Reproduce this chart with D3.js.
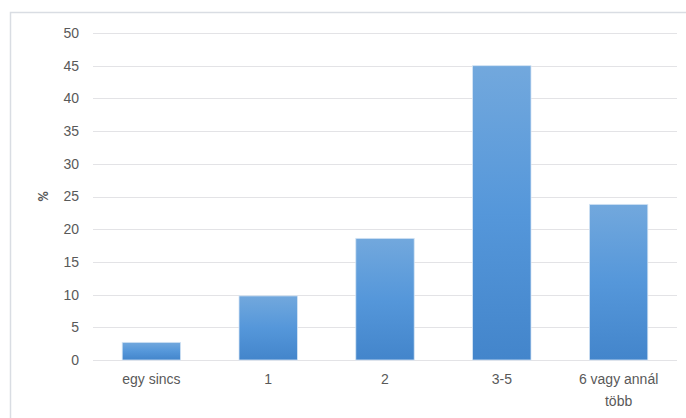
<!DOCTYPE html>
<html>
<head>
<meta charset="utf-8">
<script src="https://cdn.jsdelivr.net/npm/d3@7"></script>
<style>
  body { margin: 0; background: #fff; }
  svg { display: block; font-family: Carlito, Calibri, "Open Sans", sans-serif; }
</style>
</head>
<body>
<svg id="chart"></svg>
<script>
const categories = ['egy sincs', '1', '2', '3-5', '6 vagy annál több'];
const values = [2.7, 9.8, 18.6, 45.0, 23.8];
const yTicks = [0, 5, 10, 15, 20, 25, 30, 35, 40, 45, 50];

const width = 686;
const height = 418;
const margin = { top: 33, right: 9, bottom: 58, left: 93 };

const svg = d3.select('#chart').attr('width', width).attr('height', height);

// chart frame
svg.append('rect')
  .attr('x', 10.5).attr('y', 12.5)
  .attr('width', 690).attr('height', 430)
  .attr('fill', 'none').attr('stroke', '#d9dde3').attr('stroke-width', 1.5);

const defs = svg.append('defs');
const grad = defs.append('linearGradient')
  .attr('id', 'barGrad').attr('x1', 0).attr('y1', 0).attr('x2', 0).attr('y2', 1);
grad.append('stop').attr('offset', '0%').attr('stop-color', '#72a8dd');
grad.append('stop').attr('offset', '50%').attr('stop-color', '#5597da');
grad.append('stop').attr('offset', '100%').attr('stop-color', '#4385cb');

const x = d3.scaleBand(categories, [margin.left, width - margin.right]).paddingInner(0.5).paddingOuter(0.25);
const y = d3.scaleLinear([0, 50], [height - margin.bottom, margin.top]);

// grid
svg.append('g')
  .selectAll('line')
  .data(yTicks)
  .join('line')
  .attr('x1', margin.left).attr('x2', width - margin.right)
  .attr('y1', (d) => Math.round(y(d)) + 0.5).attr('y2', (d) => Math.round(y(d)) + 0.5)
  .attr('stroke', '#e3e3e6').attr('stroke-width', 1);

// y axis labels
const yAxis = d3.axisLeft(y).tickValues(yTicks).tickSize(0).tickPadding(14);
svg.append('g')
  .attr('transform', `translate(${margin.left},0)`)
  .call(yAxis)
  .call((g) => g.select('.domain').remove())
  .call((g) => g.selectAll('.tick text').attr('fill', '#595959').style('font-size', '14px').attr('font-family', null));

svg.append('text')
  .attr('transform', `translate(48,${y(25)}) rotate(-90)`)
  .attr('text-anchor', 'middle')
  .attr('fill', '#595959')
  .style('font-size', '14px')
  .style('font-weight', 'bold')
  .text('%');

// bars
svg.append('g')
  .selectAll('rect')
  .data(values)
  .join('rect')
  .attr('x', (d, i) => x(categories[i]))
  .attr('y', (d) => y(d))
  .attr('width', x.bandwidth())
  .attr('height', (d) => y(0) - y(d))
  .attr('fill', 'url(#barGrad)')
  .attr('stroke', '#d4e4f4')
  .attr('stroke-width', 0.8);

// x labels
const xAxis = d3.axisBottom(x).tickSize(0).tickPadding(14);
svg.append('g')
  .attr('transform', `translate(0,${y(0)})`)
  .call(xAxis)
  .call((g) => g.select('.domain').remove())
  .call((g) => g.selectAll('.tick text')
    .attr('fill', '#595959').style('font-size', '14px').attr('font-family', null)
    .each(function (d) {
      const t = d3.select(this);
      if (d === '6 vagy annál több') {
        t.text(null);
        t.append('tspan').attr('x', 0).attr('dy', '0.71em').text('6 vagy annál');
        t.append('tspan').attr('x', 0).attr('dy', '1.6em').text('több');
        t.attr('dy', null);
      }
    }));
</script>
</body>
</html>
